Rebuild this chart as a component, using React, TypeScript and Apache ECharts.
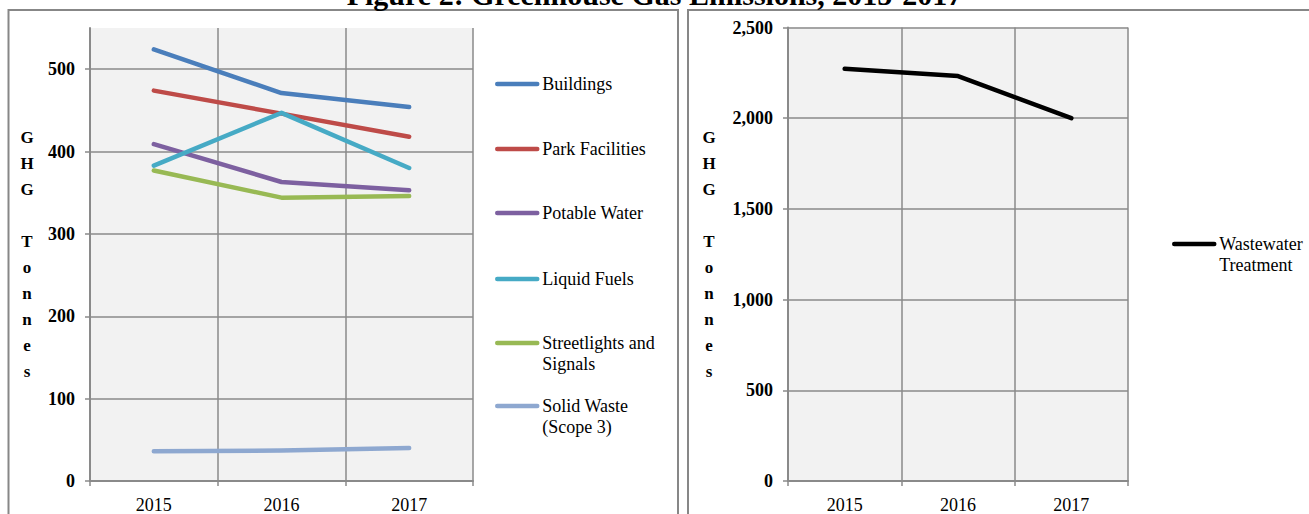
import React, { useEffect, useRef } from 'react';
import * as echarts from 'echarts';

const years = ['2015', '2016', '2017'];
const seriesNames = [
  'Buildings',
  'Park Facilities',
  'Potable Water',
  'Liquid Fuels',
  'Streetlights and Signals',
  'Solid Waste (Scope 3)',
];
const buildings = [524, 471, 454];
const parkFacilities = [474, 446, 418];
const potableWater = [409, 363, 353];
const liquidFuels = [383, 447, 380];
const streetlights = [377, 344, 346];
const solidWaste = [36, 37, 40];
const wastewaterName = 'Wastewater Treatment';
const wastewater = [2272, 2232, 2000];
const leftTicks = [0, 100, 200, 300, 400, 500];
const rightTicks = [0, 500, 1000, 1500, 2000, 2500];
const titleText = 'Figure 2: Greenhouse Gas Emissions, 2015-2017';
const axisNameText = 'G\nH\nG\n\nT\no\nn\nn\ne\ns';

const leftValues = [buildings, parkFacilities, potableWater, liquidFuels, streetlights, solidWaste];
const colors = ['#4A7EBB', '#BE4B48', '#7D60A0', '#46AAC5', '#98B954', '#8EA8D0'];

const SERIF = '"Liberation Serif", "Times New Roman", serif';
const GRID_COLOR = '#8a8a8a';
const LEG_FS = 18;

const twoLine: Record<string, string[]> = {
  'Streetlights and Signals': ['Streetlights and', 'Signals'],
  'Solid Waste (Scope 3)': ['Solid Waste', '(Scope 3)'],
  'Wastewater Treatment': ['Wastewater', 'Treatment'],
};

const richStyle = {
  e: { fontFamily: SERIF, fontSize: LEG_FS, lineHeight: 21, color: '#000' },
  a: { fontFamily: SERIF, fontSize: LEG_FS, lineHeight: 21, color: '#000' },
};

function makeLegend(name: string, left: number, centerY: number) {
  const multi = twoLine[name];
  return {
    data: [name],
    left,
    top: multi ? centerY - 31.5 : centerY - 10.5,
    orient: 'vertical',
    padding: 0,
    itemWidth: 40,
    itemHeight: 4,
    selectedMode: false,
    lineStyle: { width: 4.5, cap: 'round' },
    formatter: (n: string) => {
      const parts = twoLine[n];
      if (!parts) return n;
      return `{e| }\n{a|${parts[0]}}\n{a|${parts[1]}}`;
    },
    textStyle: {
      fontFamily: SERIF,
      fontSize: LEG_FS,
      lineHeight: 21,
      color: '#000',
      rich: richStyle,
    },
  };
}

const legendCenters = [84, 149, 213, 279, 343, 406];

function yAxisBase(gridIndex: number, max: number, ticks: number[], nameGap: number, fmt: (v: number) => string) {
  return {
    type: 'value',
    gridIndex,
    min: 0,
    max,
    name: axisNameText,
    nameLocation: 'middle',
    nameRotate: 0,
    nameGap,
    nameTextStyle: {
      fontFamily: SERIF,
      fontWeight: 'bold',
      fontSize: 17,
      lineHeight: 26,
      align: 'center',
      verticalAlign: 'middle',
      color: '#000',
    },
    axisLine: { show: true, lineStyle: { color: GRID_COLOR, width: 2 } },
    axisTick: { show: true, length: 5, customValues: ticks, lineStyle: { color: GRID_COLOR, width: 1.5 } },
    axisLabel: {
      customValues: ticks,
      margin: 15,
      fontFamily: SERIF,
      fontWeight: 'bold',
      fontSize: 18,
      color: '#000',
      formatter: fmt,
    },
    splitLine: { show: true, lineStyle: { color: GRID_COLOR, width: 1.5 } },
  };
}

function xAxisBase(gridIndex: number) {
  return {
    type: 'category',
    gridIndex,
    data: years,
    boundaryGap: true,
    axisLine: { show: true, lineStyle: { color: GRID_COLOR, width: 2 } },
    axisTick: { show: true, length: 5, lineStyle: { color: GRID_COLOR, width: 1.5 } },
    axisLabel: { margin: 15, fontFamily: SERIF, fontSize: 18, color: '#000' },
    splitLine: { show: true, lineStyle: { color: GRID_COLOR, width: 1.5 } },
  };
}

const option: any = {
  animation: false,
  backgroundColor: '#fff',
  title: {
    text: titleText,
    left: 'center',
    top: -21,
    padding: 0,
    textStyle: { fontFamily: SERIF, fontWeight: 'bold', fontSize: 30, color: '#000' },
  },
  graphic: [
    {
      type: 'rect',
      silent: true,
      z: -1,
      shape: { x: 8.5, y: 10, width: 669.5, height: 600 },
      style: { fill: 'none', stroke: '#878787', lineWidth: 2 },
    },
    {
      type: 'rect',
      silent: true,
      z: -1,
      shape: { x: 688, y: 10, width: 700, height: 600 },
      style: { fill: 'none', stroke: '#878787', lineWidth: 2 },
    },
  ],
  grid: [
    { left: 90, top: 28, width: 383, height: 457, show: true, backgroundColor: '#F2F2F2', borderWidth: 0 },
    { left: 788, top: 27.5, width: 340, height: 457.5, show: true, backgroundColor: '#F2F2F2', borderWidth: 0 },
  ],
  xAxis: [xAxisBase(0), xAxisBase(1)],
  yAxis: [
    yAxisBase(0, 550, leftTicks, 63, (v: number) => String(v)),
    yAxisBase(1, 2500, rightTicks, 79, (v: number) => v.toLocaleString('en-US')),
  ],
  legend: [
    ...seriesNames.map((n, i) => makeLegend(n, 495, legendCenters[i])),
    makeLegend(wastewaterName, 1172, 244),
  ],
  series: [
    ...seriesNames.map((n, i) => ({
      name: n,
      type: 'line',
      xAxisIndex: 0,
      yAxisIndex: 0,
      data: leftValues[i],
      symbol: 'none',
      color: colors[i],
      lineStyle: { width: 4.5, color: colors[i], cap: 'round', join: 'round' },
    })),
    {
      name: wastewaterName,
      type: 'line',
      xAxisIndex: 1,
      yAxisIndex: 1,
      data: wastewater,
      symbol: 'none',
      color: '#000',
      lineStyle: { width: 4.5, color: '#000', cap: 'round', join: 'round' },
    },
  ],
};

export default function App() {
  const ref = useRef<HTMLDivElement>(null);
  useEffect(() => {
    if (!ref.current) return;
    const chart = echarts.init(ref.current, null, { renderer: 'svg' });
    chart.setOption(option);
    return () => chart.dispose();
  }, []);
  return (
    <div
      ref={ref}
      style={{ position: 'fixed', left: 0, top: 0, width: 1309, height: 514, background: '#fff' }}
    />
  );
}
